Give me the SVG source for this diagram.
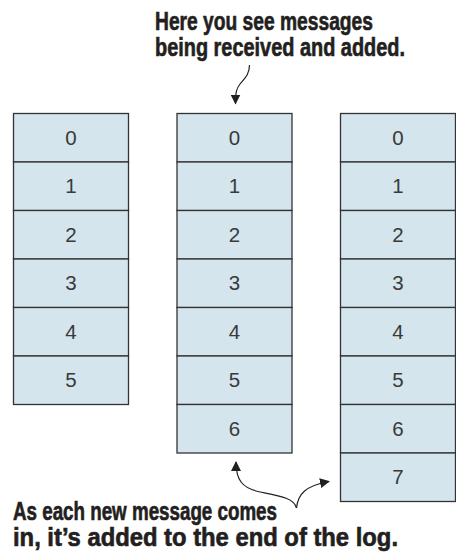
<svg xmlns="http://www.w3.org/2000/svg" width="456" height="552" viewBox="0 0 456 552">
<defs>
<style>
.cell{fill:#d4e5ed;stroke:#333;stroke-width:1.3}
.num{font-family:"Liberation Sans",Arial,sans-serif;font-size:20.5px;fill:#3a3a3a;text-anchor:middle}
.note{font-family:"Liberation Sans",Arial,sans-serif;font-weight:bold;font-size:20px;fill:#231f20;stroke:#231f20;stroke-width:0.5}
.conn{fill:none;stroke:#231f20;stroke-width:1.2}
</style>
<marker id="ah" viewBox="0 0 10 10" refX="9" refY="5" markerWidth="10" markerHeight="10" markerUnits="userSpaceOnUse" orient="auto">
<path d="M0,0 L10,5 L0,10 z" fill="#231f20"/>
</marker>
</defs>
<rect width="456" height="552" fill="#fff"/>
<g id="log1">
<rect class="cell" x="13.5" y="113.5" width="115" height="48.5"/><text class="num" x="71" y="144.5">0</text>
<rect class="cell" x="13.5" y="162" width="115" height="48.5"/><text class="num" x="71" y="193">1</text>
<rect class="cell" x="13.5" y="210.5" width="115" height="48.5"/><text class="num" x="71" y="241.5">2</text>
<rect class="cell" x="13.5" y="259" width="115" height="48.5"/><text class="num" x="71" y="290">3</text>
<rect class="cell" x="13.5" y="307.5" width="115" height="48.5"/><text class="num" x="71" y="338.5">4</text>
<rect class="cell" x="13.5" y="356" width="115" height="48.5"/><text class="num" x="71" y="387">5</text>
</g>
<g id="log2">
<rect class="cell" x="177" y="113.5" width="115" height="48.5"/><text class="num" x="234.5" y="144.5">0</text>
<rect class="cell" x="177" y="162" width="115" height="48.5"/><text class="num" x="234.5" y="193">1</text>
<rect class="cell" x="177" y="210.5" width="115" height="48.5"/><text class="num" x="234.5" y="241.5">2</text>
<rect class="cell" x="177" y="259" width="115" height="48.5"/><text class="num" x="234.5" y="290">3</text>
<rect class="cell" x="177" y="307.5" width="115" height="48.5"/><text class="num" x="234.5" y="338.5">4</text>
<rect class="cell" x="177" y="356" width="115" height="48.5"/><text class="num" x="234.5" y="387">5</text>
<rect class="cell" x="177" y="404.5" width="115" height="48.5"/><text class="num" x="234.5" y="435.5">6</text>
</g>
<g id="log3">
<rect class="cell" x="340.5" y="113.5" width="115" height="48.5"/><text class="num" x="398" y="144.5">0</text>
<rect class="cell" x="340.5" y="162" width="115" height="48.5"/><text class="num" x="398" y="193">1</text>
<rect class="cell" x="340.5" y="210.5" width="115" height="48.5"/><text class="num" x="398" y="241.5">2</text>
<rect class="cell" x="340.5" y="259" width="115" height="48.5"/><text class="num" x="398" y="290">3</text>
<rect class="cell" x="340.5" y="307.5" width="115" height="48.5"/><text class="num" x="398" y="338.5">4</text>
<rect class="cell" x="340.5" y="356" width="115" height="48.5"/><text class="num" x="398" y="387">5</text>
<rect class="cell" x="340.5" y="404.5" width="115" height="48.5"/><text class="num" x="398" y="435.5">6</text>
<rect class="cell" x="340.5" y="453" width="115" height="48.5"/><text class="num" x="398" y="484">7</text>
</g>
<g id="note-top">
<text class="note" transform="translate(155,30) scale(1,1.25)" x="0" y="0" textLength="218" lengthAdjust="spacingAndGlyphs">Here you see messages</text>
<text class="note" transform="translate(155,56) scale(1,1.25)" x="0" y="0" textLength="250" lengthAdjust="spacingAndGlyphs">being received and added.</text>
</g>
<g id="note-bottom">
<text class="note" transform="translate(13,520) scale(1,1.25)" x="0" y="0" textLength="264" lengthAdjust="spacingAndGlyphs">As each new message comes</text>
<text class="note" transform="translate(13,546) scale(1,1.25)" x="0" y="0" textLength="385" lengthAdjust="spacingAndGlyphs">in, it’s added to the end of the log.</text>
</g>
<g id="connectors">
<path class="conn" marker-end="url(#ah)" d="M249.5,65 C249.5,75 244,79 240,84 C236.5,88.5 235.5,92 235.5,103.5"/>
<path class="conn" marker-end="url(#ah)" d="M296.5,508 C294,498 280,496 260,492 C242,488 236,480 236,462"/>
<path class="conn" marker-end="url(#ah)" d="M296.5,508 C298,494 305,486 329,481.5"/>
</g>
</svg>
